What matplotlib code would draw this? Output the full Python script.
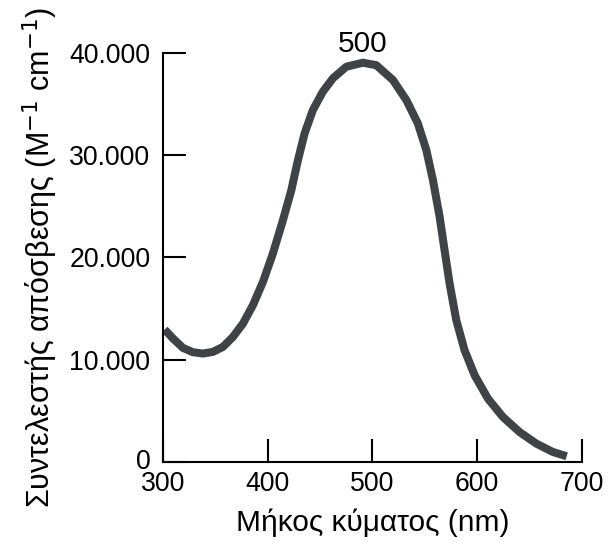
import matplotlib
matplotlib.use("Agg")
import matplotlib.pyplot as plt
import matplotlib.transforms as mtransforms

plt.rcParams['font.family'] = ['Liberation Sans', 'DejaVu Sans']

wavelength = [301.6, 309.6, 319.1, 328.6, 338.2, 347.7, 357.3, 366.8, 376.4, 385.9,
              395.5, 405.0, 414.6, 422.6, 428.9, 435.3, 443.2, 452.7, 462.3, 475.1,
              490.9, 503.7, 519.6, 532.4, 543.4, 551.5, 557.8, 564.2, 568.9, 573.7,
              580.1, 588.0, 597.6, 610.3, 624.6, 640.5, 656.5, 672.3, 685.5]
extinction = [12950, 12070, 11150, 10730, 10600, 10760, 11250, 12220, 13530, 15320,
              17600, 20380, 23640, 26570, 29500, 32120, 34400, 36190, 37500, 38630,
              39020, 38780, 37330, 35370, 33090, 30480, 27550, 23960, 20700, 17450,
              13860, 10920, 8480, 6200, 4400, 2930, 1800, 980, 560]

x_ticks = [300, 400, 500, 600, 700]
y_ticks = [0, 10000, 20000, 30000, 40000]
y_tick_labels = ['0', '10.000', '20.000', '30.000', '40.000']
peak_label = '500'
peak_x = 491
peak_y = 40100

fig = plt.figure(figsize=(6.08, 5.42), dpi=100)
ax = fig.add_axes([0.268, 0.1476, 0.689, 0.7552])

ax.plot(wavelength, extinction, color='#414246', linewidth=5.8,
        solid_joinstyle='round', solid_capstyle='butt')

ax.set_xlim(300, 700)
ax.set_ylim(0, 40000)
ax.set_xticks(x_ticks)
ax.set_xticklabels([str(v) for v in x_ticks])
ax.set_yticks(y_ticks)
ax.set_yticklabels(y_tick_labels)

for s in ['top', 'right']:
    ax.spines[s].set_visible(False)
for s in ['left', 'bottom']:
    ax.spines[s].set_linewidth(1.5)
    ax.spines[s].set_color('black')

ax.tick_params(axis='both', direction='in', length=16.5, width=1.5,
               labelsize=19.2, colors='black')
ax.tick_params(axis='y', pad=9)
ax.tick_params(axis='x', pad=6.5)

# nudge the "0" label slightly upward so it does not collide with "300"
zero_label = ax.get_yticklabels()[0]
zero_label.set_transform(zero_label.get_transform() +
                         mtransforms.ScaledTranslation(0, 2.5 / 72, fig.dpi_scale_trans))

ax.text(peak_x, peak_y, peak_label, ha='center', va='baseline', fontsize=21.5)

ax.set_xlabel('Μήκος κύματος (nm)', fontsize=21.5, labelpad=8)
ax.set_ylabel('Συντελεστής απόσβεσης (M$^{-1}$ cm$^{-1}$)', fontsize=22.0, labelpad=7)

fig.savefig('out.png', dpi=100)
